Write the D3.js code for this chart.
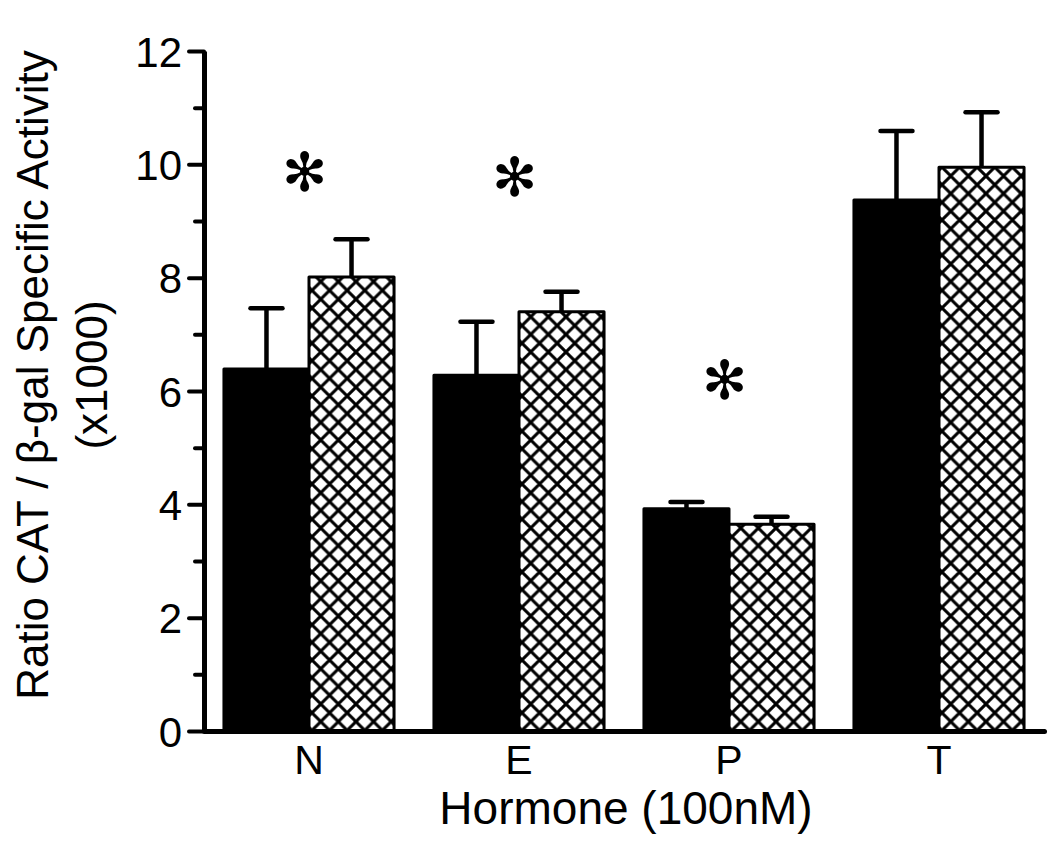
<!DOCTYPE html>
<html>
<head>
<meta charset="utf-8">
<script src="https://cdn.jsdelivr.net/npm/d3@7"></script>
<style>
  html, body { margin: 0; padding: 0; background: #fff; }
  svg text { font-family: "Liberation Sans", Arial, sans-serif; fill: #000; }
</style>
</head>
<body>
<svg id="chart" width="1050" height="848"></svg>
<script>
// ---- data ----
const categories = ["N", "E", "P", "T"];
const seriesNames = ["solid", "hatched"];
const solidValues = [6.39, 6.28, 3.92, 9.37];
const solidErrors = [1.07, 0.94, 0.12, 1.22];
const hatchedValues = [8.01, 7.40, 3.65, 9.95];
const hatchedErrors = [0.67, 0.35, 0.13, 0.97];
const yTickValues = [0, 2, 4, 6, 8, 10, 12];
const yMinorTickValues = [1, 3, 5, 7, 9, 11];
const asteriskCategories = ["N", "E", "P"];
const asteriskLevels = [9.86, 9.78, 6.19];
const asteriskSymbol = "\u273B";
const xTitle = "Hormone (100nM)";
const yTitleLines = ["Ratio CAT / \u03b2-gal Specific Activity", "(x1000)"];

const svg = d3.select("#chart");

// hatch pattern
const defs = svg.append("defs");
const P = 17.6;
const pat = defs.append("pattern")
  .attr("id", "xhatch")
  .attr("patternUnits", "userSpaceOnUse")
  .attr("width", P).attr("height", P)
  .attr("x", 308).attr("y", 0);
pat.append("rect").attr("width", P).attr("height", P).attr("fill", "#fff");
pat.append("path")
  .attr("d", `M0,0L${P},${P}M${P},0L0,${P}M${-P/2},${P/2}L${P/2},${3*P/2}M${P/2},${-P/2}L${3*P/2},${P/2}M${P/2},${-P/2}L${-P/2},${P/2}M${3*P/2},${P/2}L${P/2},${3*P/2}`)
  .attr("stroke", "#000").attr("stroke-width", 3).attr("fill", "none");

// scales
const x = d3.scaleBand().domain(categories).range([204, 1044])
  .paddingInner(0.19).paddingOuter(0.095);
const xs = d3.scaleBand().domain(seriesNames).range([0, x.bandwidth()]);
const y = d3.scaleLinear().domain([0, 12]).range([731, 51]);

const rows = categories.map((c, i) => ({
  cat: c,
  bars: [
    { s: "solid", v: solidValues[i], e: solidErrors[i] },
    { s: "hatched", v: hatchedValues[i], e: hatchedErrors[i] }
  ]
}));

// bars
const g = svg.append("g");
const groups = g.selectAll("g.grp").data(rows).join("g")
  .attr("class", "grp")
  .attr("transform", d => `translate(${x(d.cat)},0)`);

groups.selectAll("g.err").data(d => d.bars).join("g").attr("class", "err")
  .each(function(d) {
    const cx = xs(d.s) + xs.bandwidth() / 2;
    const sel = d3.select(this);
    sel.append("line")
      .attr("x1", cx).attr("x2", cx)
      .attr("y1", y(d.v)).attr("y2", y(d.v + d.e))
      .attr("stroke", "#000").attr("stroke-width", 4.5);
    sel.append("line")
      .attr("x1", cx - 16).attr("x2", cx + 16)
      .attr("y1", y(d.v + d.e)).attr("y2", y(d.v + d.e))
      .attr("stroke", "#000").attr("stroke-width", 4.5)
      .attr("stroke-linecap", "round");
  });

groups.selectAll("rect").data(d => d.bars).join("rect")
  .attr("x", d => xs(d.s))
  .attr("width", xs.bandwidth())
  .attr("y", d => y(d.v))
  .attr("height", d => y(0) - y(d.v))
  .attr("fill", d => d.s === "solid" ? "#000" : "url(#xhatch)")
  .attr("stroke", "#000")
  .attr("stroke-width", 3)
  .attr("stroke-linejoin", "round");

// y axis
const yAxis = svg.append("g").attr("transform", "translate(204,0)")
  .call(d3.axisLeft(y).tickValues(yTickValues).tickSize(15).tickPadding(7).tickSizeOuter(0));
yAxis.select(".domain").attr("stroke-width", 5).attr("stroke", "#000");
yAxis.selectAll(".tick line").attr("stroke-width", 4).attr("stroke", "#000").attr("stroke-linecap", "round");
yAxis.selectAll(".tick text").attr("font-size", 42).attr("font-family", "Liberation Sans, Arial, sans-serif").attr("dy", "0.36em");

const yMinor = svg.append("g").attr("transform", "translate(204,0)")
  .call(d3.axisLeft(y).tickValues(yMinorTickValues).tickSize(9).tickFormat("").tickSizeOuter(0));
yMinor.select(".domain").remove();
yMinor.selectAll(".tick line").attr("stroke-width", 4).attr("stroke", "#000").attr("stroke-linecap", "round");

// x axis
const xAxis = svg.append("g").attr("transform", `translate(0,${y(0)})`)
  .call(d3.axisBottom(x).tickSize(0).tickSizeOuter(0).tickPadding(13));
xAxis.select(".domain").attr("stroke-width", 5).attr("stroke", "#000").attr("stroke-linecap", "round");
xAxis.selectAll(".tick text").attr("font-size", 41).attr("font-family", "Liberation Sans, Arial, sans-serif")
  .attr("dy", "0.72em");

// titles
svg.append("text")
  .attr("x", 626).attr("y", 824)
  .attr("text-anchor", "middle")
  .attr("font-size", 46)
  .text(xTitle);

const yt = svg.append("text")
  .attr("transform", "translate(48,375) rotate(-90)")
  .attr("text-anchor", "middle")
  .attr("font-size", 44);
yt.append("tspan").attr("x", 0).attr("y", 0).text(yTitleLines[0]);
yt.append("tspan").attr("x", 0).attr("y", 59).text(yTitleLines[1]);

// significance asterisks
asteriskCategories.forEach((c, i) => {
  const cx = x(c) + x.bandwidth() / 2 - 5;
  const cy = y(asteriskLevels[i]);
  const t = svg.append("text")
    .attr("font-family", "DejaVu Sans")
    .attr("font-size", 54)
    .attr("text-anchor", "middle")
    .attr("x", 0).attr("y", 0)
    .text(asteriskSymbol);
  const bb = t.node().getBBox();
  t.attr("x", cx).attr("y", cy - (bb.y + bb.height / 2));
});
</script>
</body>
</html>
